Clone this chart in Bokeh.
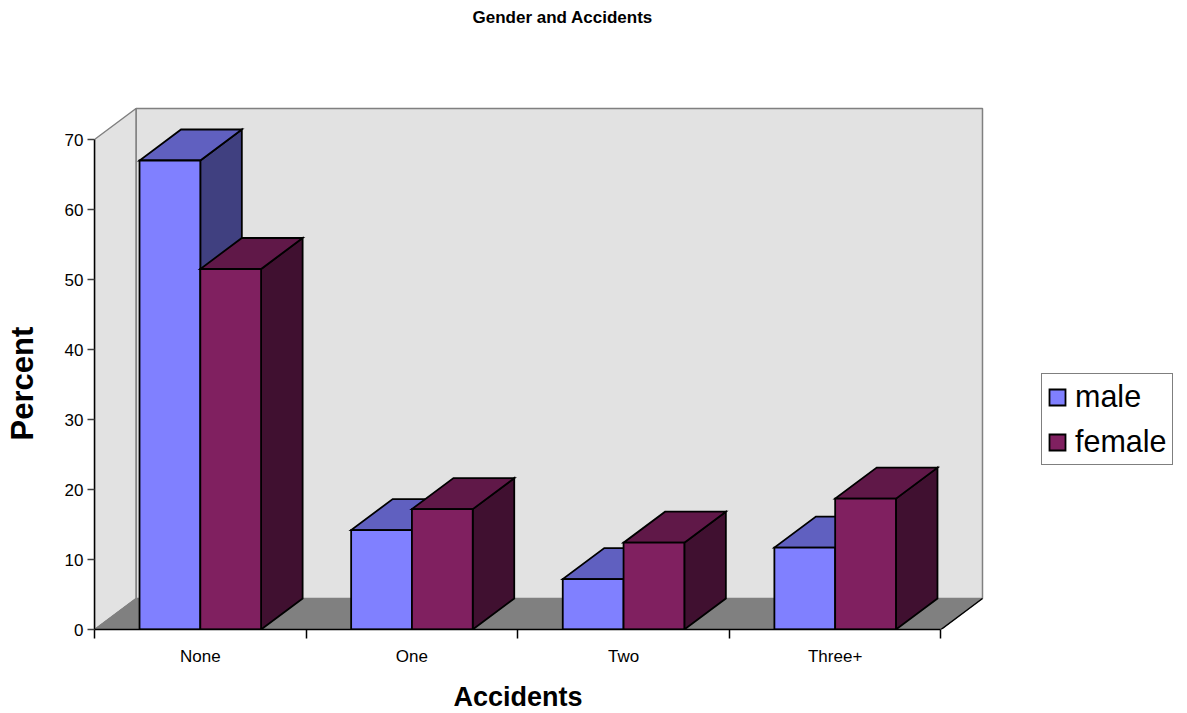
from bokeh.embed import file_html
from bokeh.resources import INLINE
from bokeh.plotting import figure
from bokeh.models import (FixedTicker, Legend, LegendItem, LinearAxis, Range1d, Title)

CATEGORIES = ["None", "One", "Two", "Three+"]
MALE = [67.0, 14.2, 7.2, 11.7]
FEMALE = [51.5, 17.2, 12.4, 18.7]
Y_TICKS = [0, 10, 20, 30, 40, 50, 60, 70]
SERIES_NAMES = ["male", "female"]

Y_MAX = 70
PX_PER_CAT = 211.5
PX_PER_PCT = 7.0
DEPTH_X = 41.5 / PX_PER_CAT      # depth of the 3D box, in category units
DEPTH_Y = 31.0 / PX_PER_PCT      # depth of the 3D box, in percent units
BAR_W = 60.75 / PX_PER_CAT
PAD_PX = 3
N = len(CATEGORIES)

FONT = "Liberation Sans"
COLORS = {
    "male": ("#8080ff", "#6060c0", "#404080"),
    "female": ("#802060", "#601848", "#401030"),
}

FW = int(N * PX_PER_CAT + DEPTH_X * PX_PER_CAT + PAD_PX + 0.5)
FH = int(Y_MAX * PX_PER_PCT + DEPTH_Y * PX_PER_PCT + PAD_PX + 0.5)

p = figure(
    frame_width=FW, frame_height=FH,
    min_border_left=94, min_border_top=105, min_border_right=60, min_border_bottom=84,
    x_axis_type=None, y_axis_type=None,
    output_backend="svg", toolbar_location=None,
    x_range=Range1d(0, N + DEPTH_X + PAD_PX / PX_PER_CAT),
    y_range=Range1d(0, Y_MAX + DEPTH_Y + PAD_PX / PX_PER_PCT),
)
p.outline_line_color = None
p.background_fill_color = None
p.border_fill_color = "white"

# walls and floor of the box
WALL = "#e2e2e2"
EDGE = "#808080"
p.patch([DEPTH_X, N + DEPTH_X, N + DEPTH_X, DEPTH_X],
        [DEPTH_Y, DEPTH_Y, Y_MAX + DEPTH_Y, Y_MAX + DEPTH_Y],
        fill_color=WALL, line_color=EDGE, line_width=1.5)
p.patch([0, DEPTH_X, DEPTH_X, 0],
        [0, DEPTH_Y, Y_MAX + DEPTH_Y, Y_MAX],
        fill_color=WALL, line_color=EDGE, line_width=1.5)
p.patch([0, N, N + DEPTH_X, DEPTH_X],
        [0, 0, DEPTH_Y, DEPTH_Y],
        fill_color=EDGE, line_color=EDGE, line_width=1)
p.line([N, N + DEPTH_X], [0, DEPTH_Y], line_color="black", line_width=1.5)

legend_rs = {}
for i in range(N):
    c = i + 0.5
    for name, val, x0 in (("male", MALE[i], c - BAR_W), ("female", FEMALE[i], c)):
        front, top, side = COLORS[name]
        x1 = x0 + BAR_W
        kw = dict(line_color="black", line_width=1.8, line_join="miter")
        p.patch([x1, x1 + DEPTH_X, x1 + DEPTH_X, x1],
                [0, DEPTH_Y, val + DEPTH_Y, val], fill_color=side, **kw)
        p.patch([x0, x1, x1 + DEPTH_X, x0 + DEPTH_X],
                [val, val, val + DEPTH_Y, val + DEPTH_Y], fill_color=top, **kw)
        r = p.patch([x0, x1, x1, x0], [0, 0, val, val], fill_color=front, **kw)
        legend_rs[name] = r

# axes
yaxis = LinearAxis(
    ticker=FixedTicker(ticks=Y_TICKS), bounds=(0, Y_MAX),
    major_label_text_font=FONT, major_label_text_font_size="17px", major_label_text_color="black",
    major_label_standoff=4, major_tick_in=0, major_tick_out=7, minor_tick_line_color=None,
    axis_line_color="black", axis_line_width=1.5, major_tick_line_color="#404040", major_tick_line_width=1.5,
)
p.add_layout(yaxis, "left")

centers = [i + 0.5 for i in range(N)]
xaxis = LinearAxis(
    ticker=FixedTicker(ticks=centers, minor_ticks=list(range(N + 1))), bounds=(0, N),
    major_label_overrides={c: n for c, n in zip(centers, CATEGORIES)},
    major_label_text_font=FONT, major_label_text_font_size="17px", major_label_text_color="black",
    major_label_standoff=8, major_tick_line_color=None, major_tick_in=0, major_tick_out=0,
    minor_tick_in=0, minor_tick_out=9, minor_tick_line_color="black", minor_tick_line_width=1.5,
    axis_line_color="black", axis_line_width=1.5,
)
p.add_layout(xaxis, "below")

title_style = dict(text_font=FONT, text_font_style="bold", text_color="black")
p.add_layout(Title(text=" ", text_font_size="17px", standoff=56, **title_style), "above")
p.add_layout(Title(text="Gender and Accidents", text_font_size="17px", align="left",
                   offset=378, standoff=4, **title_style), "above")
p.add_layout(Title(text="Accidents", text_font_size="27px", align="left",
                   offset=359, standoff=22, **title_style), "below")
p.add_layout(Title(text=" ", text_font_size="17px", standoff=0, **title_style), "left")
p.add_layout(Title(text="Percent", text_font_size="31px", align="left",
                   offset=189, standoff=2, **title_style), "left")

legend = Legend(
    items=[LegendItem(label=n, renderers=[legend_rs[n]]) for n in SERIES_NAMES],
    location=(56, 164), orientation="vertical",
    border_line_color="black", border_line_width=1, background_fill_color="white", background_fill_alpha=1,
    label_text_font=FONT, label_text_font_size="30.5px", label_text_color="black",
    glyph_width=20, glyph_height=20, label_standoff=8, spacing=10, padding=5, margin=0,
)
p.add_layout(legend, "right")

open("out.html", "w").write(file_html(p, INLINE))
